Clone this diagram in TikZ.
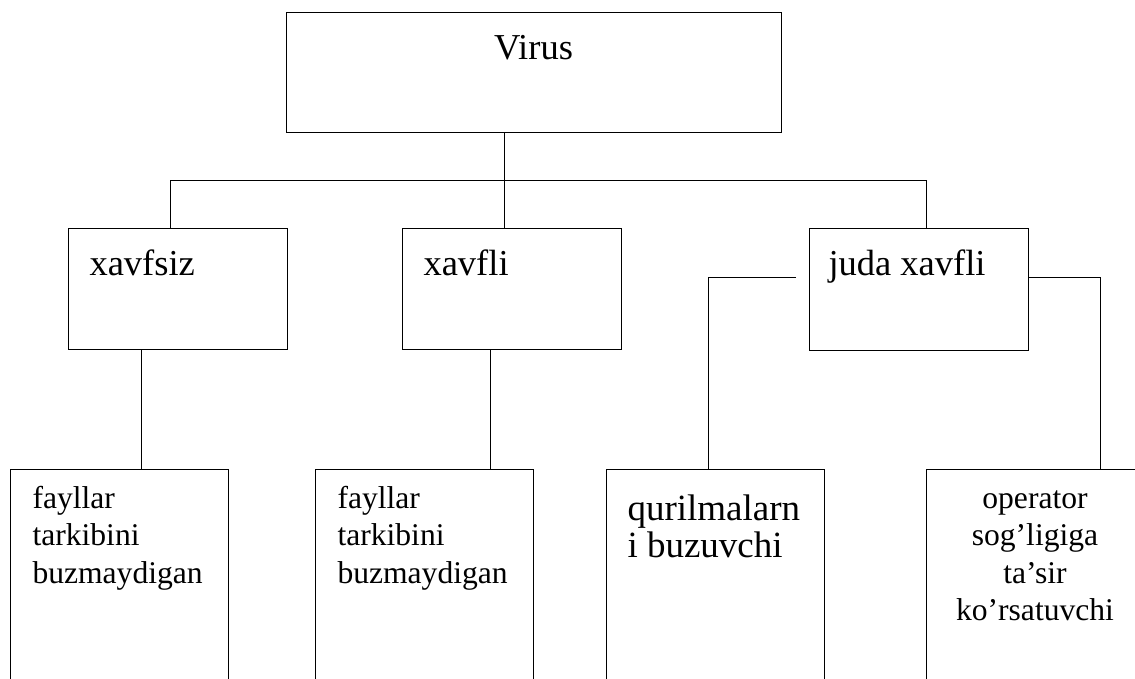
\documentclass[tikz,border=0pt]{standalone}
\usepackage{fontspec}
\setmainfont{Liberation Serif}
\begin{document}
\begin{tikzpicture}[x=1pt,y=-1pt,line width=1pt,
  box/.style={draw,rectangle,inner sep=0pt,outer sep=0pt,anchor=north west},
  topbox/.style={box,minimum width=219pt,minimum height=120pt},
  lowbox/.style={box,minimum width=218pt,minimum height=240pt},
  toptext/.style={inner sep=0pt,anchor=base west,font=\fontsize{36.5}{42}\selectfont},
  smalltext/.style={inner sep=0pt,anchor=base west,font=\fontsize{31.6}{37.5}\selectfont},
  bigtext/.style={inner sep=0pt,anchor=base west,font=\fontsize{37}{37.3}\selectfont}]
\useasboundingbox (0,0) rectangle (1135,679);
\clip (0,0) rectangle (1135,679);
% top level
\node[box,minimum width=495pt,minimum height=120pt] (virus) at (286,13) {};
\node[toptext,anchor=base] (tvirus) at (533.5,60) {Virus};
% middle level
\node[topbox] (xs) at (68,229) {};
\node[toptext] (txs) at (89,275) {xavfsiz};
\node[topbox] (xf) at (402,229) {};
\node[toptext] (txf) at (423,275) {xavfli};
\node[topbox,minimum height=121pt] (jx) at (809,229) {};
\node[toptext] (tjx) at (828,275) {juda xavfli};
% bottom level
\node[lowbox] (b1) at (10,469) {};
\node[smalltext] (tb1) at (32,508) {\parbox[t]{190pt}{fayllar\\tarkibini\\buzmaydigan}};
\node[lowbox] (b2) at (315,469) {};
\node[smalltext] (tb2) at (337,508) {\parbox[t]{190pt}{fayllar\\tarkibini\\buzmaydigan}};
\node[lowbox] (b3) at (606,469) {};
\node[bigtext] (tb3) at (627,520) {\parbox[t]{200pt}{qurilmalarn\\i buzuvchi}};
\node[lowbox] (b4) at (926,469) {};
\node[smalltext,anchor=base] (tb4) at (1035,508) {\parbox[t]{218pt}{\centering operator\\sog’ligiga\\ta’sir\\ko’rsatuvchi}};
% helper coordinates
\coordinate (vx) at (504,0);
\coordinate (hl) at (170,181);
\coordinate (hr) at (926,181);
\coordinate (k1) at (141,0);
\coordinate (k2) at (490,0);
\coordinate (k3) at (708,0);
\coordinate (jl) at (796,277);
\coordinate (jr) at (1100,277);
% connectors
\draw (virus.south -| vx) -- (xf.north -| vx);
\draw (xs.north -| hl) -- (hl) -- (hr) -- (jx.north -| hr);
\draw (xs.south -| k1) -- (b1.north -| k1);
\draw (xf.south -| k2) -- (b2.north -| k2);
\draw (jl) -| (b3.north -| k3);
\draw (jx.east |- jr) -| (b4.north -| jr);
\end{tikzpicture}
\end{document}
